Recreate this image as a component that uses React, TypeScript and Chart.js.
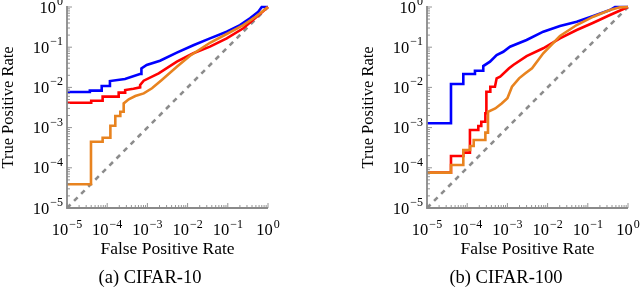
import React, { useEffect, useRef } from "react";
import { Chart, registerables } from "chart.js";

Chart.register(...registerables);

const FONT = "'Liberation Serif', 'DejaVu Serif', serif";
const AXIS_COLOR = "#8a8a8a";
const BLUE = "#0000ff";
const RED = "#ff0000";
const ORANGE = "#e8831f";
const CHANCE = "#8c8c8c";

// ---------- CIFAR-10 ----------
const c10BlueFpr = [1e-5, 3.7e-5, 3.7e-5, 7.3e-5, 7.3e-5, 1.17e-4, 1.17e-4, 2.77e-4, 6.5e-4, 7.1e-4, 7.1e-4, 9.6e-4, 2.06e-3, 5.4e-3, 1.39e-2, 3.6e-2, 9.4e-2, 0.201, 0.356, 0.574, 0.697, 1];
const c10BlueTpr = [7.7e-3, 7.7e-3, 8.3e-3, 8.3e-3, 1.08e-2, 1.08e-2, 1.44e-2, 1.62e-2, 2.15e-2, 2.15e-2, 2.95e-2, 3.6e-2, 4.6e-2, 7.3e-2, 0.112, 0.166, 0.243, 0.355, 0.524, 0.764, 1, 1];

const c10RedFpr = [1e-5, 4.0e-5, 4.0e-5, 7.7e-5, 7.7e-5, 1.93e-4, 1.93e-4, 2.8e-4, 2.8e-4, 4.5e-4, 6.6e-4, 6.6e-4, 8.1e-4, 1.91e-3, 5.4e-3, 1.39e-2, 3.6e-2, 9.4e-2, 0.243, 0.524, 1];
const c10RedTpr = [4.16e-3, 4.16e-3, 4.67e-3, 4.67e-3, 5.9e-3, 5.9e-3, 7.4e-3, 7.4e-3, 8.6e-3, 9.3e-3, 1.0e-2, 1.15e-2, 1.47e-2, 2.24e-2, 4.36e-2, 7.05e-2, 0.103, 0.166, 0.295, 0.574, 1];

const c10OrangeFpr = [1e-5, 3.95e-5, 3.95e-5, 7.7e-5, 7.7e-5, 1.2e-4, 1.2e-4, 1.59e-4, 1.59e-4, 2.12e-4, 2.12e-4, 2.57e-4, 2.57e-4, 3.43e-4, 5.0e-4, 8.1e-4, 1.3e-3, 2.24e-3, 5.4e-3, 1.15e-2, 3.6e-2, 9.4e-2, 0.243, 0.524, 1];
const c10OrangeTpr = [3.9e-5, 3.9e-5, 4.46e-4, 4.46e-4, 5.6e-4, 5.6e-4, 1.11e-3, 1.11e-3, 1.95e-3, 1.95e-3, 2.48e-3, 2.48e-3, 4.0e-3, 5.06e-3, 6.1e-3, 7.1e-3, 9.5e-3, 1.51e-2, 3.27e-2, 6.15e-2, 0.129, 0.213, 0.356, 0.597, 1];

// ---------- CIFAR-100 ----------
const c100BlueFpr = [1e-5, 3.95e-5, 3.95e-5, 8.0e-5, 8.0e-5, 1.56e-4, 1.56e-4, 2.51e-4, 2.51e-4, 3.69e-4, 5.4e-4, 7.9e-4, 1.16e-3, 3.0e-3, 7.8e-3, 2.03e-2, 5.3e-2, 0.137, 0.356, 0.475, 1];
const c100BlueTpr = [1.28e-3, 1.28e-3, 1.22e-2, 1.22e-2, 2.15e-2, 2.15e-2, 2.6e-2, 2.6e-2, 3.4e-2, 4.36e-2, 6.4e-2, 7.7e-2, 0.103, 0.151, 0.243, 0.337, 0.431, 0.597, 0.841, 1, 1];

const c100RedFpr = [1e-5, 3.95e-5, 3.95e-5, 8.0e-5, 8.0e-5, 1.17e-4, 1.17e-4, 1.89e-4, 1.89e-4, 2.24e-4, 2.24e-4, 2.83e-4, 2.83e-4, 3.0e-4, 3.0e-4, 3.76e-4, 3.76e-4, 4.9e-4, 5.4e-4, 6.6e-4, 1.1e-3, 1.4e-3, 3.0e-3, 7.8e-3, 2.03e-2, 5.3e-2, 0.137, 0.356, 1];
const c100RedTpr = [7.6e-5, 7.6e-5, 1.97e-4, 1.97e-4, 2.38e-4, 2.38e-4, 8.7e-4, 8.7e-4, 1.1e-3, 1.1e-3, 1.4e-3, 1.4e-3, 2.27e-3, 2.27e-3, 7.8e-3, 7.8e-3, 1.04e-2, 1.04e-2, 1.68e-2, 1.85e-2, 2.98e-2, 3.6e-2, 6.0e-2, 9.4e-2, 0.166, 0.268, 0.407, 0.632, 1];

const c100OrangeFpr = [1e-5, 3.95e-5, 3.95e-5, 8.0e-5, 8.0e-5, 1.18e-4, 1.18e-4, 1.45e-4, 1.45e-4, 2.83e-4, 2.83e-4, 3.29e-4, 3.29e-4, 5.0e-4, 7.2e-4, 1.0e-3, 1.3e-3, 1.95e-3, 2.8e-3, 4.1e-3, 7.8e-3, 2.03e-2, 5.3e-2, 0.137, 0.356, 0.63, 1];
const c100OrangeTpr = [7.6e-5, 7.6e-5, 1.17e-4, 1.17e-4, 2.77e-4, 2.77e-4, 3.48e-4, 3.48e-4, 4.9e-4, 4.9e-4, 7.5e-4, 7.5e-4, 2.48e-3, 3.0e-3, 4.0e-3, 5.4e-3, 1.04e-2, 1.68e-2, 2.24e-2, 3.0e-2, 7.05e-2, 0.19, 0.356, 0.574, 0.841, 0.98, 1];

// ---------- chance diagonal ----------
const chanceFpr = [1e-5, 1];
const chanceTpr = [1e-5, 1];

// ---------- axis ticks ----------
const majorTicks = [1e-5, 1e-4, 1e-3, 1e-2, 1e-1, 1];
const tickBase = "10";
const tickExponents = ["\u22125", "\u22124", "\u22123", "\u22122", "\u22121", "0"];
const minorSteps = [2, 3, 4, 5, 6, 7, 8, 9];

const xTitle = "False Positive Rate";
const yTitle = "True Positive Rate";
const captions = ["(a) CIFAR-10", "(b) CIFAR-100"];

const pairs = (xs: number[], ys: number[]) => xs.map((x, i) => ({ x, y: ys[i] }));

const axesPlugin = {
  id: "pgfAxes",
  afterDraw(chart: any) {
    const { ctx, chartArea, scales } = chart;
    const xs = scales.x;
    const ys = scales.y;
    const { left, right, top, bottom } = chartArea;
    ctx.save();
    // ticks (inward)
    ctx.strokeStyle = AXIS_COLOR;
    ctx.lineWidth = 0.9;
    ctx.beginPath();
    majorTicks.forEach((v, i) => {
      const px = xs.getPixelForValue(v);
      const py = ys.getPixelForValue(v);
      ctx.moveTo(px, bottom);
      ctx.lineTo(px, bottom - 5);
      ctx.moveTo(left, py);
      ctx.lineTo(left + 5, py);
      if (i < majorTicks.length - 1) {
        minorSteps.forEach((m) => {
          const mx = xs.getPixelForValue(v * m);
          const my = ys.getPixelForValue(v * m);
          ctx.moveTo(mx, bottom);
          ctx.lineTo(mx, bottom - 3);
          ctx.moveTo(left, my);
          ctx.lineTo(left + 3, my);
        });
      }
    });
    ctx.stroke();
    // axis lines
    ctx.lineWidth = 1.8;
    ctx.beginPath();
    ctx.moveTo(left, top - 1);
    ctx.lineTo(left, bottom);
    ctx.lineTo(right, bottom);
    ctx.stroke();
    // labels with superscripts
    ctx.fillStyle = "#000";
    ctx.textBaseline = "alphabetic";
    ctx.textAlign = "left";
    const baseFont = `16.5px ${FONT}`;
    const supFont = `12px ${FONT}`;
    majorTicks.forEach((v, i) => {
      const exp = tickExponents[i];
      ctx.font = baseFont;
      const wb = ctx.measureText(tickBase).width;
      ctx.font = supFont;
      const ws = ctx.measureText(exp).width;
      const gap = 1;
      const w = wb + ws + gap;
      // x label
      const px = xs.getPixelForValue(v);
      const sx = px - w / 2;
      ctx.font = baseFont;
      ctx.fillText(tickBase, sx, bottom + 27);
      ctx.font = supFont;
      ctx.fillText(exp, sx + wb + gap, bottom + 19.5);
      // y label
      const py = ys.getPixelForValue(v);
      const ex = left - 4 - w;
      ctx.font = baseFont;
      ctx.fillText(tickBase, ex, py + 5.5);
      ctx.font = supFont;
      ctx.fillText(exp, ex + wb + gap, py - 2);
    });
    ctx.restore();
  },
};

function makeConfig(
  blue: [number[], number[]],
  red: [number[], number[]],
  orange: [number[], number[]],
  padLeft: number,
  padRight: number
): any {
  const line = (data: any, color: string, extra: any = {}) => ({
    data,
    borderColor: color,
    backgroundColor: color,
    borderWidth: 2.6,
    pointRadius: 0,
    tension: 0,
    fill: false,
    clip: false,
    ...extra,
  });
  return {
    type: "line",
    data: {
      datasets: [
        line(pairs(orange[0], orange[1]), ORANGE),
        line(pairs(red[0], red[1]), RED),
        line(pairs(blue[0], blue[1]), BLUE),
        line(pairs(chanceFpr, chanceTpr), CHANCE, { borderDash: [5, 5], borderWidth: 2.6 }),
      ],
    },
    options: {
      animation: false,
      responsive: false,
      devicePixelRatio: 1,
      layout: { padding: { left: padLeft, right: padRight, top: 7, bottom: 29 } },
      plugins: { legend: { display: false }, tooltip: { enabled: false }, title: { display: false } },
      scales: {
        x: {
          type: "logarithmic",
          min: 1e-5,
          max: 1,
          grid: { display: false },
          border: { display: false },
          ticks: { display: false },
          title: {
            display: true,
            text: xTitle,
            color: "#000",
            padding: 0,
            font: { family: FONT, size: 17.5, lineHeight: 1 },
          },
          afterFit: (s: any) => {
            s.height = 50;
          },
        },
        y: {
          type: "logarithmic",
          min: 1e-5,
          max: 1,
          grid: { display: false },
          border: { display: false },
          ticks: { display: false },
          title: {
            display: true,
            text: yTitle,
            color: "#000",
            padding: 0,
            font: { family: FONT, size: 16.5, lineHeight: 1 },
          },
          afterFit: (s: any) => {
            s.width = 67;
          },
        },
      },
    },
    plugins: [axesPlugin],
  };
}

export default function App() {
  const leftRef = useRef<HTMLCanvasElement | null>(null);
  const rightRef = useRef<HTMLCanvasElement | null>(null);

  useEffect(() => {
    const charts: Chart[] = [];
    if (leftRef.current) {
      charts.push(
        new Chart(
          leftRef.current,
          makeConfig([c10BlueFpr, c10BlueTpr], [c10RedFpr, c10RedTpr], [c10OrangeFpr, c10OrangeTpr], 0, 52)
        )
      );
    }
    if (rightRef.current) {
      charts.push(
        new Chart(
          rightRef.current,
          makeConfig([c100BlueFpr, c100BlueTpr], [c100RedFpr, c100RedTpr], [c100OrangeFpr, c100OrangeTpr], 40, 12)
        )
      );
    }
    return () => charts.forEach((c) => c.destroy());
  }, []);

  const captionStyle = (cx: number): React.CSSProperties => ({
    position: "absolute",
    left: cx,
    top: 277,
    transform: "translate(-50%, -50%)",
    whiteSpace: "nowrap",
    fontFamily: FONT,
    fontSize: 18.5,
    color: "#000",
    lineHeight: 1,
  });

  return (
    <div style={{ position: "absolute", left: 0, top: 0, width: 640, height: 287, background: "#fff", overflow: "hidden" }}>
      <canvas ref={leftRef} width={320} height={287} style={{ position: "absolute", left: 0, top: 0, display: "block" }} />
      <canvas ref={rightRef} width={320} height={287} style={{ position: "absolute", left: 320, top: 0, display: "block" }} />
      <div style={captionStyle(150)}>{captions[0]}</div>
      <div style={captionStyle(506)}>{captions[1]}</div>
    </div>
  );
}
